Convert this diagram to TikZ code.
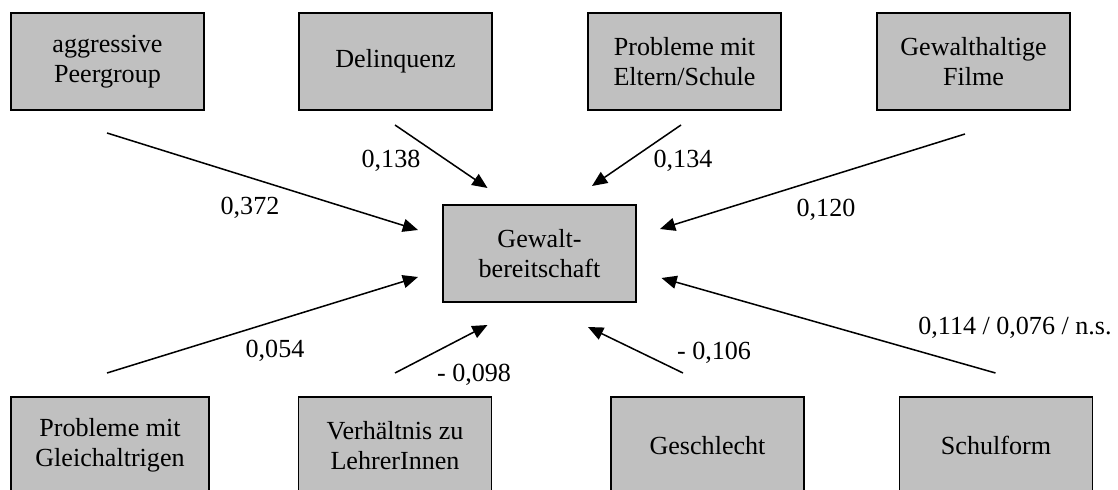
\documentclass[tikz,border=0pt]{standalone}
\usepackage{fontspec}
\setmainfont{Liberation Serif}
\usetikzlibrary{positioning,arrows.meta}
\definecolor{boxgray}{RGB}{192,192,192}

\begin{document}
\begin{tikzpicture}[
     x=0.46pt, y=-0.46pt,
     % define styles
     factor/.style={
         draw,
         fill=boxgray,
         line width=0.55pt,
         minimum width=88.8pt,
         minimum height=44.6pt,
         align=center,
         inner sep=0pt,
         font=\fontsize{12}{14}\selectfont
     },
     weight/.style={
         inner sep=0pt,
         font=\fontsize{12}{14}\selectfont
     },
     path/.style={
         -{Triangle[length=7pt,width=6pt]},
         line width=0.7pt
     }
]
\useasboundingbox (0,0) rectangle (1118,490);
\clip (0,0) rectangle (1118,490);

% outcome in the middle
\node[factor] (gew) at (539.5,253.5) {Gewalt-\\bereitschaft};

% upper row of factors
\node[factor] (peer)  at (107.5,61.5) {aggressive\\Peergroup};
\node[factor] (delin) at (395.5,61.5) {Delinquenz};
\node[factor] (elt)   at (684.5,61.5) {Probleme mit\\Eltern/Schule};
\node[factor] (film)  at (973.5,61.5) {Gewalthaltige\\Filme};

% lower row of factors
\node[factor, minimum width=91.1pt] (gleich) at (110,445.5) {Probleme mit\\Gleichaltrigen};
\node[factor] (lehr)   at (395,445.5)   {Verh\"altnis zu\\LehrerInnen};
\node[factor] (geschl) at (707.5,445.5) {Geschlecht};
\node[factor] (schul)  at (996,445.5)   {Schulform};

% ends of the paths
\coordinate (p1) at (107,133);  \coordinate (q1) at (418,230);
\coordinate (p2) at (395,125);  \coordinate (q2) at (487.5,188);
\coordinate (p3) at (681,125);  \coordinate (q3) at (592,186);
\coordinate (p4) at (965,134);  \coordinate (q4) at (660,229);
\coordinate (p5) at (107,373);  \coordinate (q5) at (418,277);
\coordinate (p6) at (395,373);  \coordinate (q6) at (487.5,325);
\coordinate (p7) at (683,373);  \coordinate (q7) at (588,327);
\coordinate (p8) at (995.5,373); \coordinate (q8) at (661.5,278);

\foreach \i in {1,...,8}
    \draw[path] (p\i) -- (q\i);

% path coefficients
\node[weight] (w1) at (250,208)  {0,372};
\node[weight] (w2) at (391,161)  {0,138};
\node[weight] (w3) at (683,161)  {0,134};
\node[weight] (w4) at (826,210)  {0,120};
\node[weight] (w5) at (275,351)  {0,054};
\node[weight] (w6) at (474,375)  {- 0,098};
\node[weight] (w7) at (714,353)  {- 0,106};
\node[weight] (w8) at (1015,328) {0,114 / 0,076 / n.s.};
\end{tikzpicture}
\end{document}
